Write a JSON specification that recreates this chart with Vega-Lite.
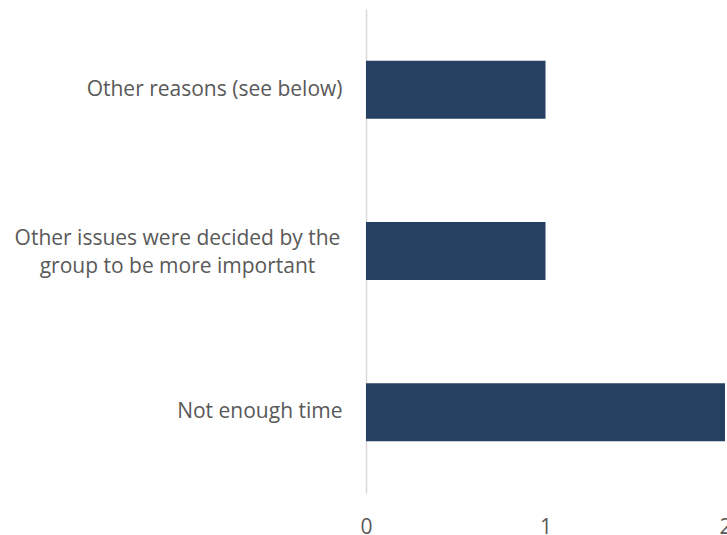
{
  "$schema": "https://vega.github.io/schema/vega-lite/v6.json",
  "autosize": {"type": "none"},
  "padding": {"left": 366, "top": 9, "right": 2, "bottom": 42},
  "width": 359,
  "height": 484,
  "background": "white",
  "config": {"view": {"stroke": null}},
  "data": {"values": [
    {"reason": "Other reasons (see below)", "count": 1},
    {"reason": ["Other issues were decided by the", "group to be more important"], "count": 1},
    {"reason": "Not enough time", "count": 2}
  ]},
  "mark": {"type": "bar", "color": "#264061"},
  "encoding": {
    "y": {
      "field": "reason",
      "type": "nominal",
      "sort": null,
      "scale": {"paddingInner": 0.64, "paddingOuter": 0.32},
      "axis": {
        "title": null,
        "ticks": false,
        "domainColor": "#d9d9d9",
        "domainWidth": 1.5,
        "labelColor": "#595959",
        "labelFont": "Open Sans",
        "labelFontSize": 21,
        "labelAlign": {"condition": {"test": "isArray(datum.value)", "value": "center"}, "value": "right"},
        "labelPadding": {"condition": {"test": "isArray(datum.value)", "value": 189}, "value": 24},
        "labelOffset": {"condition": {"test": "isArray(datum.value)", "value": -12}, "value": 0},
        "labelLimit": 400,
        "labelLineHeight": 28
      }
    },
    "x": {
      "field": "count",
      "type": "quantitative",
      "scale": {"domain": [0, 2]},
      "axis": {
        "title": null,
        "domain": false,
        "ticks": false,
        "grid": false,
        "values": [0, 1, 2],
        "labelExpr": "format(datum.value, 'd')",
        "labelColor": "#595959",
        "labelFont": "Open Sans",
        "labelFontSize": 21,
        "labelPadding": 23,
        "labelFlush": false,
        "labelOverlap": false,
        "labelSeparation": 0
      }
    }
  }
}
